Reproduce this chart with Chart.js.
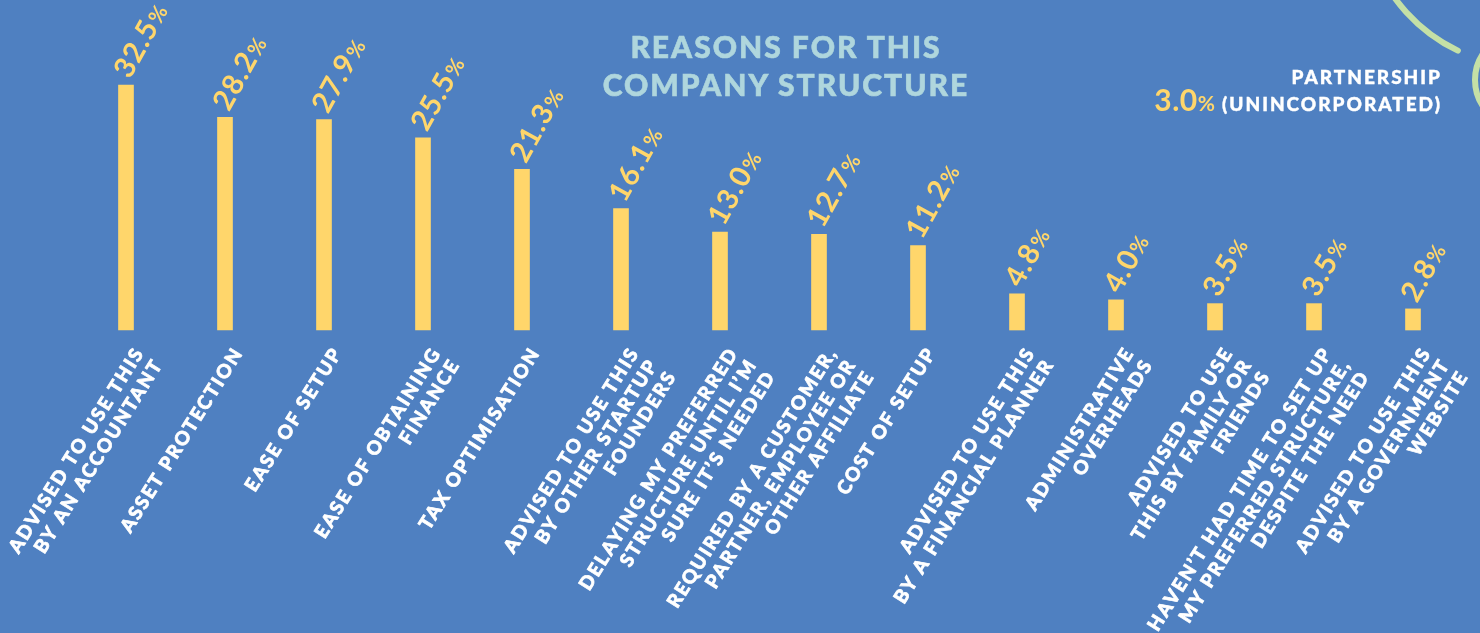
<!DOCTYPE html>
<html>
<head>
<meta charset="utf-8">
<title>Reasons for this company structure</title>
<script src="https://cdn.jsdelivr.net/npm/chart.js@4.4.1/dist/chart.umd.min.js"></script>
<style>
  html, body { margin: 0; padding: 0; }
  body {
    width: 1480px; height: 633px; overflow: hidden; position: relative;
    background: #4f80c1;
    font-family: Lato, 'Open Sans', sans-serif;
  }
  #chart { position: absolute; left: 0; top: 0; }
  .title {
    position: absolute; left: 536px; width: 500px; top: 27px; margin: 0;
    text-align: center; color: #afd6dd;
    font-size: 30px; line-height: 38px; font-weight: 900; letter-spacing: 2px;
    -webkit-text-stroke: 0.6px #afd6dd;
  }
  .note {
    position: absolute; right: 38px; top: 66px; text-align: right;
    color: #fff; font-weight: 900; font-size: 19px; line-height: 22px; letter-spacing: 2px;
    -webkit-text-stroke: 0.4px #fff;
  }
  .note .pct {
    color: #ffd66b; font-size: 30px; font-weight: 700; letter-spacing: 0.5px;
    -webkit-text-stroke: 0;
  }
  .note .pct small { font-size: 21px; }
</style>
</head>
<body>
<canvas id="chart" width="1480" height="633"></canvas>
<h1 class="title">REASONS FOR THIS<br>COMPANY STRUCTURE</h1>
<div class="note">PARTNERSHIP<br><span class="pct">3.0<small>%</small></span> (UNINCORPORATED)</div>

<script>
  /* ===== Data ===== */
  const categories = [
    ['ADVISED TO USE THIS', 'BY AN ACCOUNTANT'],
    ['ASSET PROTECTION'],
    ['EASE OF SETUP'],
    ['EASE OF OBTAINING', 'FINANCE'],
    ['TAX OPTIMISATION'],
    ['ADVISED TO USE THIS', 'BY OTHER STARTUP', 'FOUNDERS'],
    ['DELAYING MY PREFERRED', 'STRUCTURE UNTIL I\u2019M', 'SURE IT\u2019S NEEDED'],
    ['REQUIRED BY A CUSTOMER,', 'PARTNER, EMPLOYEE OR', 'OTHER AFFILIATE'],
    ['COST OF SETUP'],
    ['ADVISED TO USE THIS', 'BY A FINANCIAL PLANNER'],
    ['ADMINISTRATIVE', 'OVERHEADS'],
    ['ADVISED TO USE', 'THIS BY FAMILY OR', 'FRIENDS'],
    ['HAVEN\u2019T HAD TIME TO SET UP', 'MY PREFERRED STRUCTURE,', 'DESPITE THE NEED'],
    ['ADVISED TO USE THIS', 'BY A GOVERNMENT', 'WEBSITE']
  ];
  const shares = [32.5, 28.2, 27.9, 25.5, 21.3, 16.1, 13.0, 12.7, 11.2, 4.8, 4.0, 3.5, 3.5, 2.8];

  /* ===== Style ===== */
  const YELLOW = '#ffd66b';
  const GREEN = '#c4e0a6';
  const LABEL_TILT = -58 * Math.PI / 180;
  const VALUE_TILT = -61 * Math.PI / 180;

  /* percentage above each bar, tilted */
  const valueLabels = {
    id: 'valueLabels',
    afterDatasetsDraw(chart) {
      const ctx = chart.ctx;
      const meta = chart.getDatasetMeta(0);
      ctx.save();
      ctx.fillStyle = YELLOW;
      ctx.textAlign = 'left';
      ctx.textBaseline = 'alphabetic';
      meta.data.forEach((bar, i) => {
        const num = shares[i].toFixed(1);
        ctx.save();
        ctx.translate(bar.x + 4, bar.y - 5);
        ctx.rotate(VALUE_TILT);
        ctx.font = 'bold 29px Lato, sans-serif';
        ctx.letterSpacing = '1px';
        ctx.fillText(num, 0, 0);
        const w = ctx.measureText(num).width;
        ctx.font = 'bold 21px Lato, sans-serif';
        ctx.fillText('%', w + 1, 0);
        ctx.restore();
      });
      ctx.restore();
    }
  };

  /* category names under the bars, right-aligned and tilted */
  const categoryLabels = {
    id: 'categoryLabels',
    afterDatasetsDraw(chart) {
      const ctx = chart.ctx;
      const x = chart.scales.x;
      const top = chart.chartArea.bottom + 15;
      ctx.save();
      ctx.fillStyle = '#ffffff';
      ctx.strokeStyle = '#ffffff';
      ctx.lineWidth = 0.7;
      ctx.font = '900 19px Lato, sans-serif';
      ctx.letterSpacing = '2px';
      ctx.textAlign = 'right';
      ctx.textBaseline = 'alphabetic';
      chart.data.labels.forEach((lines, i) => {
        ctx.save();
        ctx.translate(x.getPixelForValue(i) + 7, top);
        ctx.rotate(LABEL_TILT);
        lines.forEach((line, j) => {
          ctx.fillText(line, 0, 14 + j * 22);
          ctx.strokeText(line, 0, 14 + j * 22);
        });
        ctx.restore();
      });
      ctx.restore();
    }
  };

  /* green rings in the top-right corner */
  const rings = {
    id: 'rings',
    beforeDatasetsDraw(chart) {
      const ctx = chart.ctx;
      ctx.save();
      ctx.strokeStyle = GREEN;
      ctx.lineWidth = 6;
      ctx.lineCap = 'round';
      ctx.beginPath();
      ctx.arc(1530, -100, 167, 115.6 * Math.PI / 180, 160 * Math.PI / 180);
      ctx.stroke();
      ctx.beginPath();
      ctx.arc(1522, 80, 47, 0, Math.PI * 2);
      ctx.stroke();
      ctx.restore();
    }
  };

  new Chart(document.getElementById('chart'), {
    type: 'bar',
    data: {
      labels: categories,
      datasets: [{
        data: shares,
        backgroundColor: YELLOW,
        borderWidth: 0,
        barThickness: 15,
        clip: false
      }]
    },
    options: {
      responsive: false,
      animation: false,
      devicePixelRatio: 1,
      layout: { padding: { left: 126, right: 67, top: 85, bottom: 303 } },
      scales: {
        x: { type: 'category', offset: false, display: false, grid: { display: false } },
        y: { display: false, min: 0, max: 32.5 }
      },
      plugins: {
        legend: { display: false },
        tooltip: { enabled: false }
      }
    },
    plugins: [rings, valueLabels, categoryLabels]
  });
</script>
</body>
</html>
